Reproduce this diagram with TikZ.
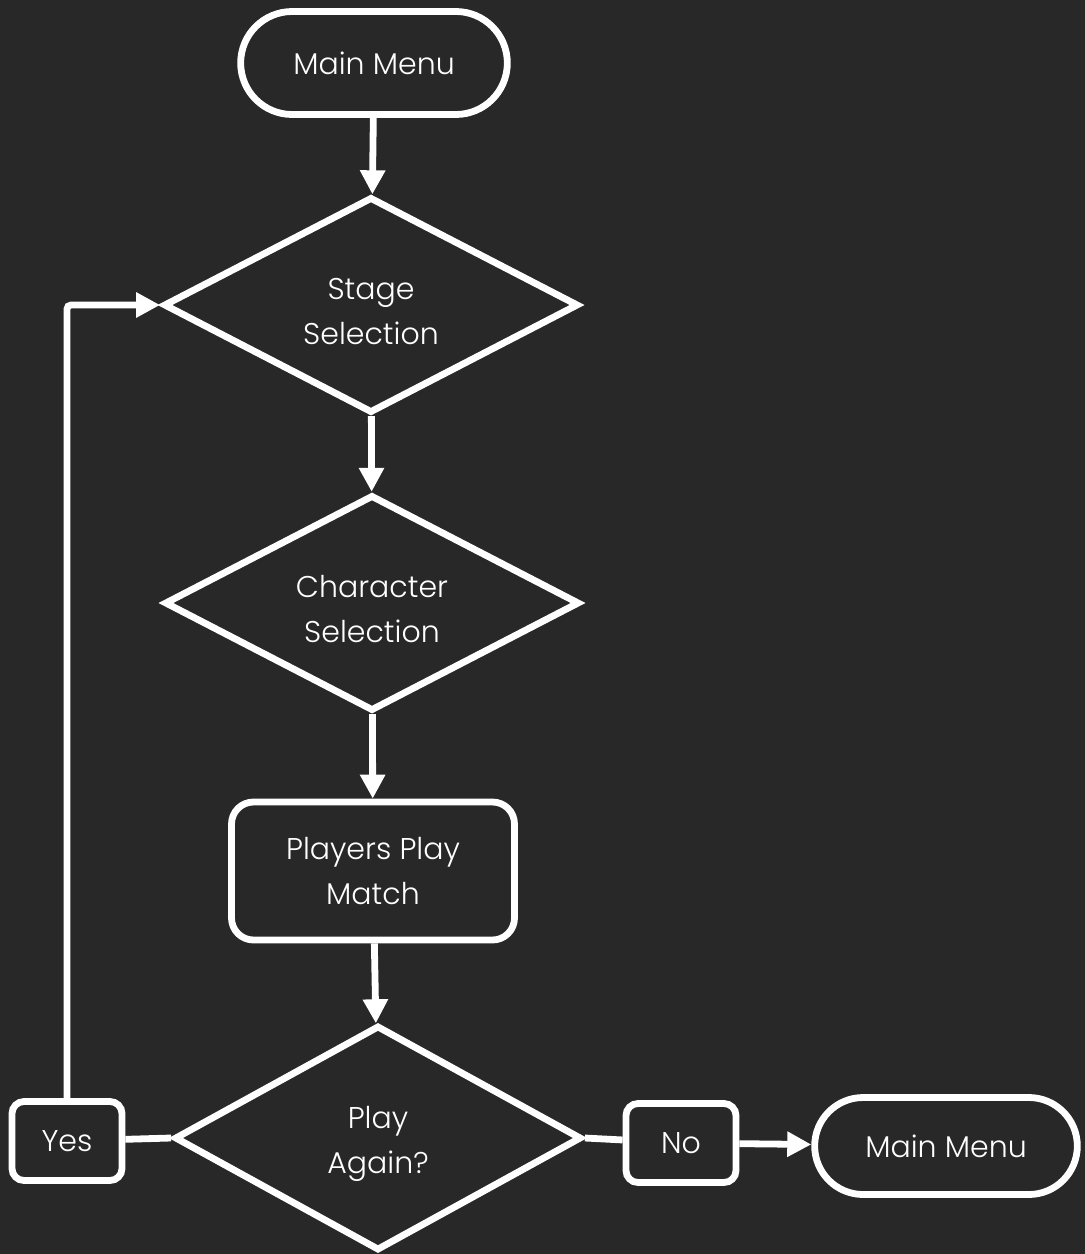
\documentclass[tikz,border=0pt]{standalone}
\usepackage{fontspec}
\setmainfont{Poppins Light}
\definecolor{boardDark}{RGB}{40,40,40}
\definecolor{chalkWhite}{RGB}{255,255,255}
\usetikzlibrary{arrows.meta, positioning, shapes.geometric, shapes.misc}

\begin{document}
\begin{tikzpicture}[
    x=0.5pt, y=-0.5pt,
    every node/.style={text=chalkWhite, font=\fontsize{15}{22.5}\selectfont, align=center},
    term/.style={draw=chalkWhite, line width=3.4pt, rounded rectangle,
                 minimum width=140pt, minimum height=51.5pt},
    choice/.style={draw=chalkWhite, line width=3.4pt, diamond, aspect=1.92,
                   minimum width=207.5pt, minimum height=108pt, inner sep=0pt,
                   text height=40pt},
    task/.style={draw=chalkWhite, line width=3.4pt, rounded corners=11pt,
                 minimum width=141.5pt, minimum height=69pt},
    answer/.style={draw=chalkWhite, line width=3.4pt, rounded corners=6pt,
                   minimum width=55pt, minimum height=39.5pt},
    flow/.style={-{Triangle[length=12pt,width=12pt]}, line width=3.4pt, chalkWhite},
    link/.style={line width=3.4pt, chalkWhite}
  ]
    \fill[boardDark] (0,0) rectangle (1085,1254);
    \useasboundingbox (0,0) rectangle (1085,1254);

    \node[term] (start) at (374,63) {Main Menu};
    \node[choice] (stage) at (371,305) {Stage\\Selection};
    \node[choice] (chara) at (372,603) {Character\\Selection};
    \node[task] (match) at (373,871) {Players Play\\Match};
    \node[choice, minimum width=203.5pt, minimum height=112.5pt, aspect=1.81] (again) at (378,1138) {Play\\Again?};
    \node[answer] (yes) at (67,1141) {Yes};
    \node[answer] (no) at (681,1143) {No};
    \node[term, minimum width=138pt, minimum height=48.5pt] (finish) at (946,1146) {Main Menu};

    \draw[flow] (start) -- (stage);
    \draw[flow] (stage) -- (chara);
    \draw[flow] (chara) -- (match);
    \draw[flow] (match) -- (again);
    \draw[link] (again.west) -- (yes);
    \draw[flow, rounded corners=2pt] (yes.north) |- (stage.west);
    \draw[link] (again.east) -- (no);
    \draw[flow] (no) -- (finish);
  \end{tikzpicture}
\end{document}
